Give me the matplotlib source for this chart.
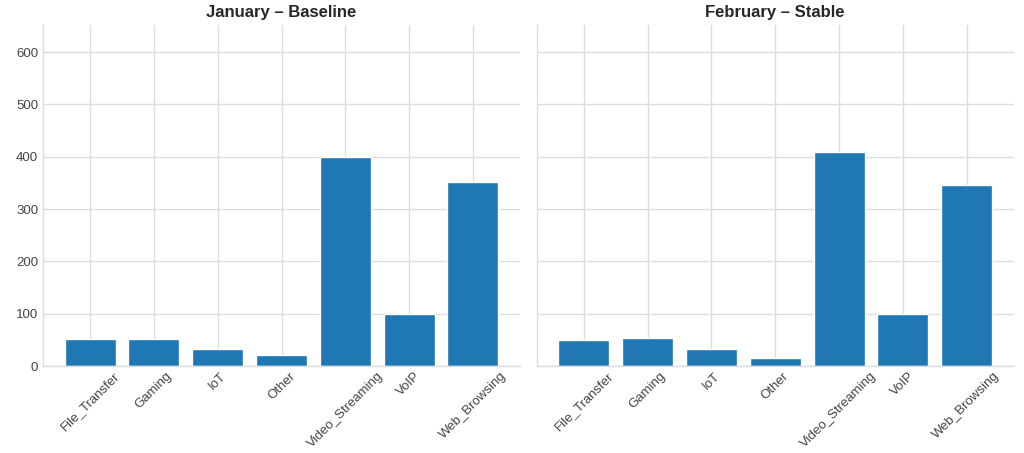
import matplotlib
matplotlib.use("Agg")
import matplotlib.pyplot as plt
import seaborn as sns

sns.set_style("whitegrid")
plt.rcParams['font.family'] = ['Liberation Sans', 'DejaVu Sans']

categories = ["File_Transfer", "Gaming", "IoT", "Other", "Video_Streaming", "VoIP", "Web_Browsing"]
jan_values = [52, 52, 32, 21, 400, 100, 352]
feb_values = [50, 53, 33, 15, 410, 99, 346]
titles = ["January – Baseline", "February – Stable"]
yticks = [0, 100, 200, 300, 400, 500, 600]

fig, axes = plt.subplots(1, 2, figsize=(10.24, 4.53), dpi=100, sharey=True)
fig.subplots_adjust(left=0.042, right=0.99, bottom=0.192, top=0.945, wspace=0.035)

for ax, vals, title in zip(axes, [jan_values, feb_values], titles):
    ax.bar(categories, vals, color="#1f77b4", width=0.8)
    ax.set_title(title, fontsize=12, fontweight="bold", color="#262626", pad=6)
    ax.set_ylim(0, 652)
    ax.set_yticks(yticks)
    ax.tick_params(axis='x', rotation=45, labelsize=9.5, colors="#444444", length=0, pad=3)
    ax.tick_params(axis='y', labelsize=9.5, colors="#444444", length=0)
    ax.grid(True, color="#dddddd", linewidth=1)
    ax.set_axisbelow(True)
    for s in ["top", "right"]:
        ax.spines[s].set_visible(False)
    for s in ["left", "bottom"]:
        ax.spines[s].set_color("#dddddd")
        ax.spines[s].set_linewidth(1)

axes[1].tick_params(axis='y', labelleft=False)

fig.savefig("out.png", dpi=100)
